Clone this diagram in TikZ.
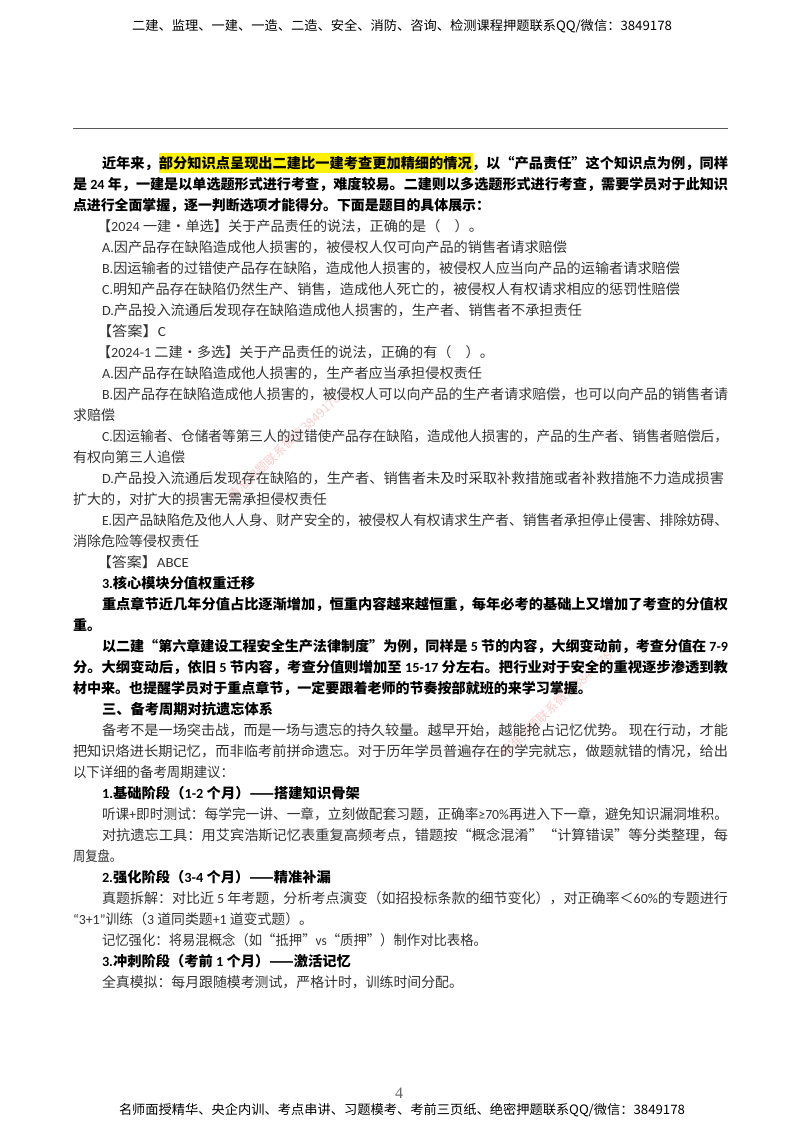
\documentclass[tikz,border=0pt]{standalone}
\usepackage{fontspec}
\usepackage{graphicx}
\setmainfont{Noto Sans CJK SC}
\newfontfamily\latinface{Carlito}
\newfontfamily\pageface{Liberation Serif}
\newcommand{\LT}[1]{{\latinface #1}}
\newcommand{\BL}[1]{{\latinface\bfseries #1}}
\definecolor{bodyink}{gray}{0.2}
\definecolor{wmpink}{RGB}{250,205,205}
\tikzset{
  txt/.style={anchor=base west,inner sep=0pt,outer sep=0pt,text=bodyink,font=\fontsize{14}{14}\selectfont},
  boldtxt/.style={txt,text=black,font=\fontsize{14}{14}\selectfont\bfseries},
  edge/.style={txt,text=black,font=\fontsize{13}{13}\selectfont},
  watermark/.style={inner sep=0pt,text=wmpink,rotate=43,font=\fontsize{12.5}{12.5}\selectfont}
}
% row index, x start, x end, style, text
\newcommand{\rowtext}[5]{%
  \node[#4] (r#1) at (#2,{168+21*#1}) {\resizebox{\dimexpr #3pt-#2pt\relax}{\height}{\hbox{#5}}};}
\begin{document}
\begin{tikzpicture}[x=1pt,y=-1pt]
\useasboundingbox (0,0) rectangle (800,1132);
\fill[white] (0,0) rectangle (800,1132);
\node[watermark] (wm1) at (284,447) {精准押题联系微信3849178};
\node[watermark] (wm2) at (556,704) {精准押题联系微信3849178};
\fill[yellow] (159,153) rectangle (473,173);
\coordinate (ruleL) at (73,128);
\coordinate (ruleR) at (728,128);
\draw[black!65,line width=0.9pt] (ruleL) -- (ruleR);
\node[edge] (head) at (132,31) {\resizebox{540pt}{\height}{\hbox{二建、监理、一建、一造、二造、安全、消防、咨询、检测课程押题联系QQ/微信：3849178}}};
\node[inner sep=0pt,text=black!60,font=\pageface\fontsize{16}{16}\selectfont] (pg) at (399,1093) {4};
\node[edge] (foot) at (119,1114) {\resizebox{566pt}{\height}{\hbox{名师面授精华、央企内训、考点串讲、习题模考、考前三页纸、绝密押题联系QQ/微信：3849178}}};
\rowtext{0}{102}{728}{boldtxt}{近年来，部分知识点呈现出二建比一建考查更加精细的情况，以“产品责任”这个知识点为例，同样}
\rowtext{1}{73}{728}{boldtxt}{是 \BL{24} 年，一建是以单选题形式进行考查，难度较易。二建则以多选题形式进行考查，需要学员对于此知识}
\rowtext{2}{73}{490}{boldtxt}{点进行全面掌握，逐一判断选项才能得分。下面是题目的具体展示：}
\rowtext{3}{97}{483}{txt}{【\LT{2024} 一建·单选】关于产品责任的说法，正确的是（\quad）。}
\rowtext{4}{102}{567}{txt}{\LT{A.}因产品存在缺陷造成他人损害的，被侵权人仅可向产品的销售者请求赔偿}
\rowtext{5}{102}{680}{txt}{\LT{B.}因运输者的过错使产品存在缺陷，造成他人损害的，被侵权人应当向产品的运输者请求赔偿}
\rowtext{6}{102}{680}{txt}{\LT{C.}明知产品存在缺陷仍然生产、销售，造成他人死亡的，被侵权人有权请求相应的惩罚性赔偿}
\rowtext{7}{102}{582}{txt}{\LT{D.}产品投入流通后发现存在缺陷造成他人损害的，生产者、销售者不承担责任}
\rowtext{8}{97}{166}{txt}{【答案】\LT{C}}
\rowtext{9}{97}{494}{txt}{【\LT{2024-1} 二建·多选】关于产品责任的说法，正确的有（\quad）。}
\rowtext{10}{102}{482}{txt}{\LT{A.}因产品存在缺陷造成他人损害的，生产者应当承担侵权责任}
\rowtext{11}{102}{728}{txt}{\LT{B.}因产品存在缺陷造成他人损害的，被侵权人可以向产品的生产者请求赔偿，也可以向产品的销售者请}
\rowtext{12}{73}{115}{txt}{求赔偿}
\rowtext{13}{102}{728}{txt}{\LT{C.}因运输者、仓储者等第三人的过错使产品存在缺陷，造成他人损害的，产品的生产者、销售者赔偿后，}
\rowtext{14}{73}{185}{txt}{有权向第三人追偿}
\rowtext{15}{102}{724}{txt}{\LT{D.}产品投入流通后发现存在缺陷的，生产者、销售者未及时采取补救措施或者补救措施不力造成损害}
\rowtext{16}{73}{327}{txt}{扩大的，对扩大的损害无需承担侵权责任}
\rowtext{17}{102}{728}{txt}{\LT{E.}因产品缺陷危及他人人身、财产安全的，被侵权人有权请求生产者、销售者承担停止侵害、排除妨碍、}
\rowtext{18}{73}{199}{txt}{消除危险等侵权责任}
\rowtext{19}{97}{189}{txt}{【答案】\LT{ABCE}}
\rowtext{20}{102}{255}{boldtxt}{\BL{3.}核心模块分值权重迁移}
\rowtext{21}{102}{728}{boldtxt}{重点章节近几年分值占比逐渐增加，恒重内容越来越恒重，每年必考的基础上又增加了考查的分值权}
\rowtext{22}{73}{101}{boldtxt}{重。}
\rowtext{23}{102}{728}{boldtxt}{以二建“第六章建设工程安全生产法律制度”为例，同样是 \BL{5} 节的内容，大纲变动前，考查分值在 \BL{7-9}}
\rowtext{24}{73}{728}{boldtxt}{分。大纲变动后，依旧 \BL{5} 节内容，考查分值则增加至 \BL{15-17} 分左右。把行业对于安全的重视逐步渗透到教}
\rowtext{25}{73}{592}{boldtxt}{材中来。也提醒学员对于重点章节，一定要跟着老师的节奏按部就班的来学习掌握。}
\rowtext{26}{102}{273}{boldtxt}{三、备考周期对抗遗忘体系}
\rowtext{27}{102}{728}{txt}{备考不是一场突击战，而是一场与遗忘的持久较量。越早开始，越能抢占记忆优势。 现在行动，才能}
\rowtext{28}{73}{728}{txt}{把知识烙进长期记忆，而非临考前拼命遗忘。对于历年学员普遍存在的学完就忘，做题就错的情况，给出}
\rowtext{29}{73}{234}{txt}{以下详细的备考周期建议：}
\rowtext{30}{102}{360}{boldtxt}{\BL{1.}基础阶段（\BL{1-2} 个月）——搭建知识骨架}
\rowtext{31}{102}{728}{txt}{听课\LT{+}即时测试：每学完一讲、一章，立刻做配套习题，正确率\LT{≥70\%}再进入下一章，避免知识漏洞堆积。}
\rowtext{32}{102}{728}{txt}{对抗遗忘工具：用艾宾浩斯记忆表重复高频考点，错题按“概念混淆”“计算错误”等分类整理，每}
\rowtext{33}{73}{122}{txt}{周复盘。}
\rowtext{34}{102}{331}{boldtxt}{\BL{2.}强化阶段（\BL{3-4} 个月）——精准补漏}
\rowtext{35}{102}{728}{txt}{真题拆解：对比近 \LT{5} 年考题，分析考点演变（如招投标条款的细节变化），对正确率＜\LT{60\%}的专题进行}
\rowtext{36}{73}{313}{txt}{\LT{“3+1”}训练（\LT{3} 道同类题\LT{+1} 道变式题）。}
\rowtext{37}{102}{487}{txt}{记忆强化：将易混概念（如“抵押”\LT{vs}“质押”）制作对比表格。}
\rowtext{38}{102}{351}{boldtxt}{\BL{3.}冲刺阶段（考前 \BL{1} 个月）——激活记忆}
\rowtext{39}{102}{463}{txt}{全真模拟：每月跟随模考测试，严格计时，训练时间分配。}
\end{tikzpicture}
\end{document}
